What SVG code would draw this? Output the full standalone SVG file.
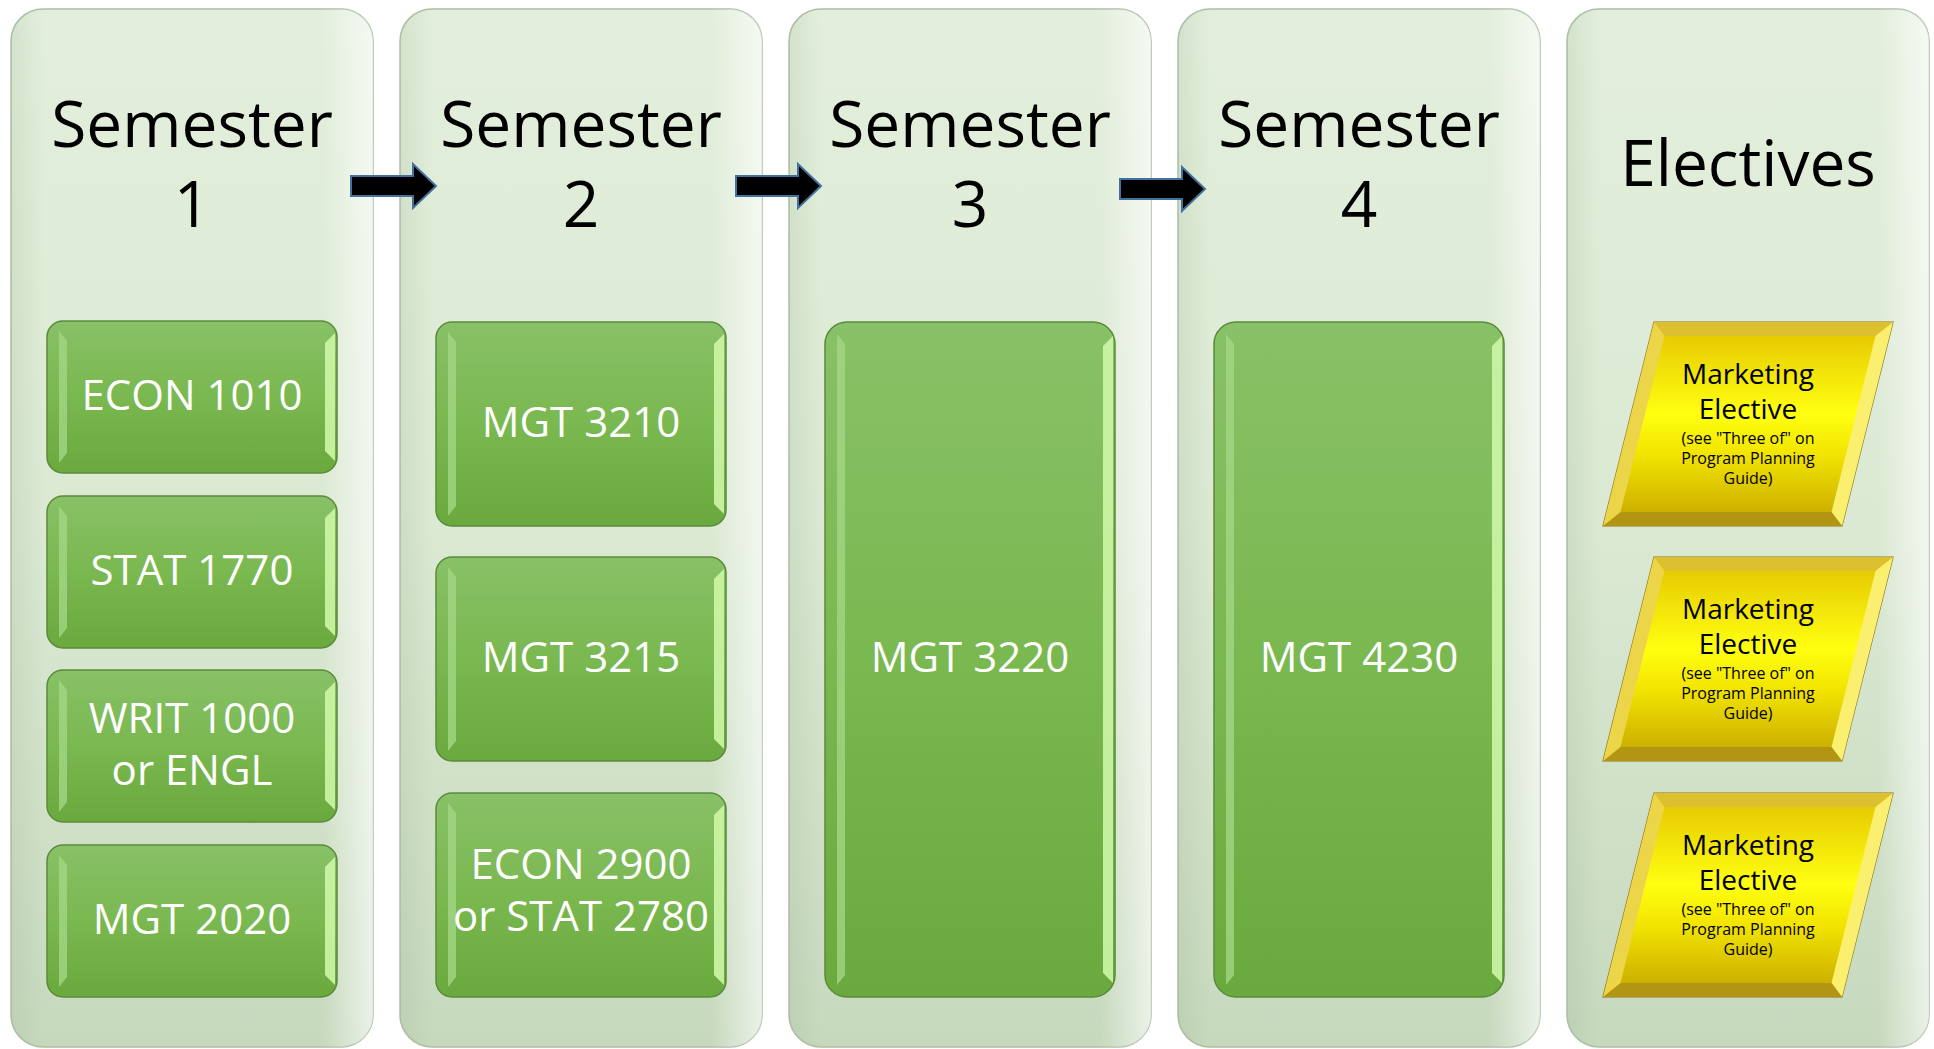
<svg xmlns="http://www.w3.org/2000/svg" xmlns:xlink="http://www.w3.org/1999/xlink" width="1934" height="1049" viewBox="0 0 1934 1049">
<style>
.col{fill:url(#colGrad);stroke:#aebfa7;stroke-width:1.5}
.colOv{fill:url(#colOver);stroke:none}
.box{fill:url(#boxGrad);stroke:#5b8a3c;stroke-width:1.5}
.sl{fill:#a4d684;opacity:.8}
.sr{fill:#cdf6a6;opacity:.9}
.head{font-family:"Open Sans","Liberation Sans",sans-serif;font-size:64px;fill:#000;text-anchor:middle}
.lbl{font-family:"Open Sans","Liberation Sans",sans-serif;font-size:42px;fill:#fff;text-anchor:middle}
.el{font-family:"Open Sans","Liberation Sans",sans-serif;font-size:28px;fill:#000;text-anchor:middle}
.es{font-family:"Open Sans","Liberation Sans",sans-serif;font-size:16px;fill:#000;text-anchor:middle}
.arrow{fill:#000;stroke:#41719c;stroke-width:2}
</style>
<defs>
<linearGradient id="colGrad" x1="0" y1="0" x2="0" y2="1">
<stop offset="0" stop-color="#e3efdc"/>
<stop offset="0.5" stop-color="#dbe9d3"/>
<stop offset="1" stop-color="#c6d9bd"/>
</linearGradient>
<linearGradient id="colOver" x1="0" y1="0" x2="1" y2="0">
<stop offset="0" stop-color="#8fa886" stop-opacity="0.18"/>
<stop offset="0.09" stop-color="#8fa886" stop-opacity="0"/>
<stop offset="0.86" stop-color="#ffffff" stop-opacity="0"/>
<stop offset="1" stop-color="#ffffff" stop-opacity="0.65"/>
</linearGradient>
<linearGradient id="boxGrad" x1="0" y1="0" x2="0" y2="1">
<stop offset="0" stop-color="#88c167"/>
<stop offset="0.5" stop-color="#7ab850"/>
<stop offset="1" stop-color="#6aa93d"/>
</linearGradient>
<linearGradient id="yelGrad" x1="0" y1="0" x2="0" y2="1">
<stop offset="0" stop-color="#e2c200"/>
<stop offset="0.45" stop-color="#ffff10"/>
<stop offset="0.65" stop-color="#f2e400"/>
<stop offset="1" stop-color="#c4a400"/>
</linearGradient>
<g id="para">
<polygon points="1654,322 1893,322 1842,526 1603,526" fill="url(#yelGrad)" stroke="#8a7518" stroke-width="1.2"/>
<polygon points="1654,322 1893,322 1875.5,336 1664.5,336" fill="#dcc030"/>
<polygon points="1893,322 1842,526 1831.5,512 1875.5,336" fill="#fbef70"/>
<polygon points="1842,526 1603,526 1620.5,512 1831.5,512" fill="#b39514"/>
<polygon points="1603,526 1654,322 1664.5,336 1620.5,512" fill="#ecd548"/>
</g>
</defs>
<rect width="1934" height="1049" fill="#ffffff"/>

<g id="semester1">
<rect class="col" x="11" y="9" width="362" height="1038" rx="32"/>
<rect class="colOv" x="11" y="9" width="362" height="1038" rx="32"/>
<text class="head" x="192" y="147">Semester</text>
<text class="head" x="192" y="227">1</text>
</g>
<g id="semester2">
<rect class="col" x="400" y="9" width="362" height="1038" rx="32"/>
<rect class="colOv" x="400" y="9" width="362" height="1038" rx="32"/>
<text class="head" x="581" y="147">Semester</text>
<text class="head" x="581" y="227">2</text>
</g>
<g id="semester3">
<rect class="col" x="789" y="9" width="362" height="1038" rx="32"/>
<rect class="colOv" x="789" y="9" width="362" height="1038" rx="32"/>
<text class="head" x="970" y="147">Semester</text>
<text class="head" x="970" y="227">3</text>
</g>
<g id="semester4">
<rect class="col" x="1178" y="9" width="362" height="1038" rx="32"/>
<rect class="colOv" x="1178" y="9" width="362" height="1038" rx="32"/>
<text class="head" x="1359" y="147">Semester</text>
<text class="head" x="1359" y="227">4</text>
</g>
<g id="electives">
<rect class="col" x="1567" y="9" width="362" height="1038" rx="32"/>
<rect class="colOv" x="1567" y="9" width="362" height="1038" rx="32"/>
<text class="head" x="1748" y="186">Electives</text>
</g>

<g id="connectors">
<path class="arrow" d="M351,176 H413 V164 L436,186 L413,208 V196 H351 Z"/>
<path class="arrow" d="M736,176 H798 V164 L821,186 L798,208 V196 H736 Z"/>
<path class="arrow" d="M1120,179 H1182 V167 L1205,189 L1182,211 V199 H1120 Z"/>
</g>

<g id="econ1010">
<rect class="box" x="47" y="321" width="290" height="152" rx="16"/>
<polygon class="sl" points="59,331 67,341 67,453 59,463"/>
<polygon class="sr" points="335,333 325,343 325,451 335,461"/>
<text class="lbl" x="192" y="410">ECON 1010</text>
</g>
<g id="stat1770">
<rect class="box" x="47" y="496" width="290" height="152" rx="16"/>
<polygon class="sl" points="59,506 67,516 67,628 59,638"/>
<polygon class="sr" points="335,508 325,518 325,626 335,636"/>
<text class="lbl" x="192" y="585">STAT 1770</text>
</g>
<g id="writ1000">
<rect class="box" x="47" y="670" width="290" height="152" rx="16"/>
<polygon class="sl" points="59,680 67,690 67,802 59,812"/>
<polygon class="sr" points="335,682 325,692 325,800 335,810"/>
<text class="lbl" x="192" y="733">WRIT 1000</text>
<text class="lbl" x="192" y="785">or ENGL</text>
</g>
<g id="mgt2020">
<rect class="box" x="47" y="845" width="290" height="152" rx="16"/>
<polygon class="sl" points="59,855 67,865 67,977 59,987"/>
<polygon class="sr" points="335,857 325,867 325,975 335,985"/>
<text class="lbl" x="192" y="934">MGT 2020</text>
</g>

<g id="mgt3210">
<rect class="box" x="436" y="322" width="290" height="204" rx="16"/>
<polygon class="sl" points="448,332 456,342 456,506 448,516"/>
<polygon class="sr" points="724,334 714,344 714,504 724,514"/>
<text class="lbl" x="581" y="437">MGT 3210</text>
</g>
<g id="mgt3215">
<rect class="box" x="436" y="557" width="290" height="204" rx="16"/>
<polygon class="sl" points="448,567 456,577 456,741 448,751"/>
<polygon class="sr" points="724,569 714,579 714,739 724,749"/>
<text class="lbl" x="581" y="672">MGT 3215</text>
</g>
<g id="econ2900">
<rect class="box" x="436" y="793" width="290" height="204" rx="16"/>
<polygon class="sl" points="448,803 456,813 456,977 448,987"/>
<polygon class="sr" points="724,805 714,815 714,975 724,985"/>
<text class="lbl" x="581" y="879">ECON 2900</text>
<text class="lbl" x="581" y="931">or STAT 2780</text>
</g>

<g id="mgt3220">
<rect class="box" x="825" y="322" width="290" height="675" rx="22"/>
<polygon class="sl" points="837,334 845,344 845,975 837,985"/>
<polygon class="sr" points="1113,336 1103,346 1103,973 1113,983"/>
<text class="lbl" x="970" y="672">MGT 3220</text>
</g>
<g id="mgt4230">
<rect class="box" x="1214" y="322" width="290" height="675" rx="22"/>
<polygon class="sl" points="1226,334 1234,344 1234,975 1226,985"/>
<polygon class="sr" points="1502,336 1492,346 1492,973 1502,983"/>
<text class="lbl" x="1359" y="672">MGT 4230</text>
</g>

<g id="elective1">
<use xlink:href="#para"/>
<text class="el" x="1748" y="384">Marketing</text>
<text class="el" x="1748" y="419">Elective</text>
<text class="es" x="1748" y="444">(see "Three of" on</text>
<text class="es" x="1748" y="464">Program Planning</text>
<text class="es" x="1748" y="484">Guide)</text>
</g>
<g id="elective2">
<use xlink:href="#para" transform="translate(0,235)"/>
<text class="el" x="1748" y="619">Marketing</text>
<text class="el" x="1748" y="654">Elective</text>
<text class="es" x="1748" y="679">(see "Three of" on</text>
<text class="es" x="1748" y="699">Program Planning</text>
<text class="es" x="1748" y="719">Guide)</text>
</g>
<g id="elective3">
<use xlink:href="#para" transform="translate(0,471)"/>
<text class="el" x="1748" y="855">Marketing</text>
<text class="el" x="1748" y="890">Elective</text>
<text class="es" x="1748" y="915">(see "Three of" on</text>
<text class="es" x="1748" y="935">Program Planning</text>
<text class="es" x="1748" y="955">Guide)</text>
</g>
</svg>
